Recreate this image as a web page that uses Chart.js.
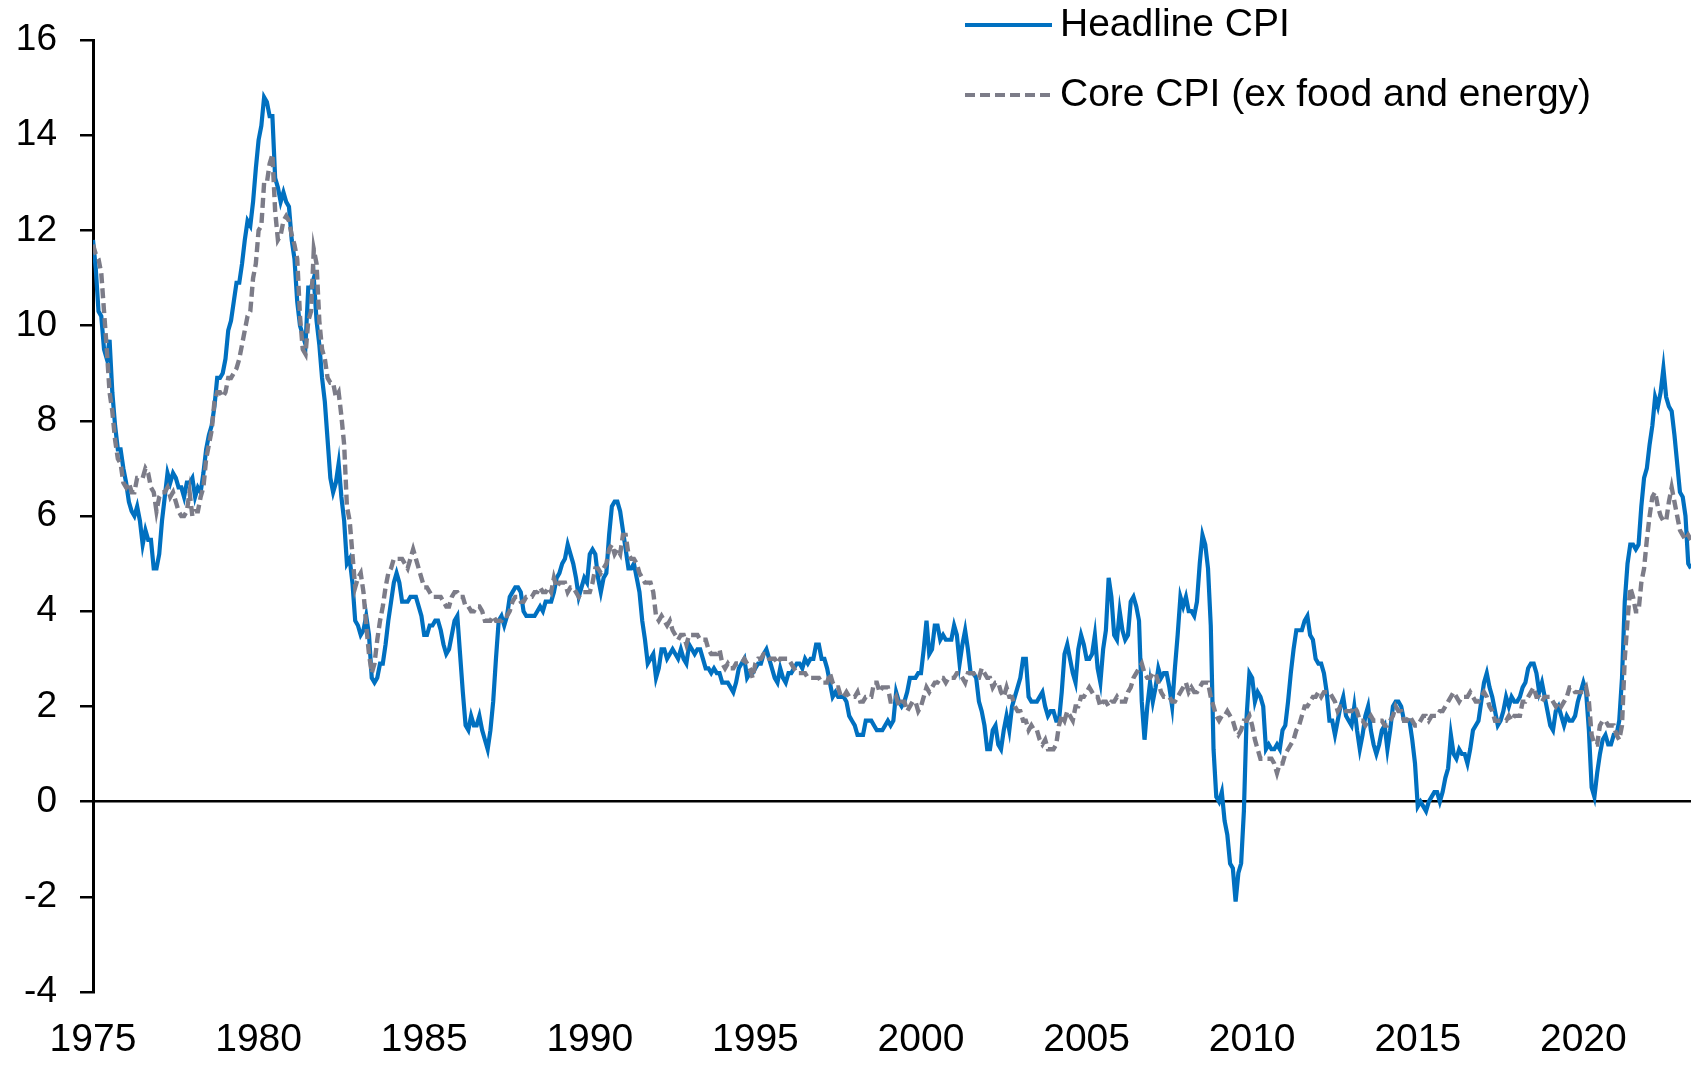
<!DOCTYPE html>
<html>
<head>
<meta charset="utf-8">
<title>US CPI inflation</title>
<script src="https://cdn.jsdelivr.net/npm/chart.js@4.4.1/dist/chart.umd.min.js"></script>
<style>
  html, body { margin: 0; padding: 0; background: #fff; }
  #contenedor { width: 1691px; height: 1066px; }
</style>
</head>
<body>
<div id="contenedor"><canvas id="grafico-cpi"></canvas></div>
<script>
// monthly y/y % change, first value = Jan 1975
const startYear = 1975;
const yearTicks = [1975, 1980, 1985, 1990, 1995, 2000, 2005, 2010, 2015, 2020];
const seriesNames = ["Headline CPI", "Core CPI (ex food and energy)"];

const headlineCPI = [
  11.8, 11.2, 10.3, 10.2, 9.5, 9.3, 9.7, 8.6, 7.9, 7.4, 7.4, 7.0,   // 1975
  6.7, 6.3, 6.1, 6.0, 6.2, 5.9, 5.4, 5.7, 5.5, 5.5, 4.9, 4.9,
  5.2, 5.9, 6.4, 6.9, 6.7, 6.9, 6.8, 6.6, 6.6, 6.4, 6.7, 6.7,
  6.8, 6.4, 6.6, 6.5, 6.9, 7.4, 7.7, 7.9, 8.3, 8.9, 8.9, 9.0,
  9.3, 9.9, 10.1, 10.5, 10.9, 10.9, 11.3, 11.8, 12.2, 12.1, 12.6, 13.3,
  13.9, 14.2, 14.8, 14.7, 14.4, 14.4, 13.1, 12.9, 12.6, 12.8, 12.6, 12.5,   // 1980
  11.8, 11.4, 10.5, 10.0, 9.8, 9.6, 10.8, 10.8, 11.0, 10.1, 9.6, 8.9,
  8.4, 7.6, 6.8, 6.5, 6.7, 7.1, 6.4, 5.9, 5.0, 5.1, 4.6, 3.8,
  3.7, 3.5, 3.6, 3.9, 3.5, 2.6, 2.5, 2.6, 2.9, 2.9, 3.3, 3.8,
  4.2, 4.6, 4.8, 4.6, 4.2, 4.2, 4.2, 4.3, 4.3, 4.3, 4.1, 3.9,
  3.5, 3.5, 3.7, 3.7, 3.8, 3.8, 3.6, 3.3, 3.1, 3.2, 3.5, 3.8,   // 1985
  3.9, 3.1, 2.3, 1.6, 1.5, 1.8, 1.6, 1.6, 1.8, 1.5, 1.3, 1.1,
  1.5, 2.1, 3.0, 3.8, 3.9, 3.7, 3.9, 4.3, 4.4, 4.5, 4.5, 4.4,
  4.0, 3.9, 3.9, 3.9, 3.9, 4.0, 4.1, 4.0, 4.2, 4.2, 4.2, 4.4,
  4.7, 4.8, 5.0, 5.1, 5.4, 5.2, 5.0, 4.7, 4.3, 4.5, 4.7, 4.6,
  5.2, 5.3, 5.2, 4.7, 4.4, 4.7, 4.8, 5.6, 6.2, 6.3, 6.3, 6.1,   // 1990
  5.7, 5.3, 4.9, 4.9, 5.0, 4.7, 4.4, 3.8, 3.4, 2.9, 3.0, 3.1,
  2.6, 2.8, 3.2, 3.2, 3.0, 3.1, 3.2, 3.1, 3.0, 3.2, 3.0, 2.9,
  3.3, 3.2, 3.1, 3.2, 3.2, 3.0, 2.8, 2.8, 2.7, 2.8, 2.7, 2.7,
  2.5, 2.5, 2.5, 2.4, 2.3, 2.5, 2.8, 2.9, 3.0, 2.6, 2.7, 2.7,
  2.8, 2.9, 2.9, 3.1, 3.2, 3.0, 2.8, 2.6, 2.5, 2.8, 2.6, 2.5,   // 1995
  2.7, 2.7, 2.8, 2.9, 2.9, 2.8, 3.0, 2.9, 3.0, 3.0, 3.3, 3.3,
  3.0, 3.0, 2.8, 2.5, 2.2, 2.3, 2.2, 2.2, 2.2, 2.1, 1.8, 1.7,
  1.6, 1.4, 1.4, 1.4, 1.7, 1.7, 1.7, 1.6, 1.5, 1.5, 1.5, 1.6,
  1.7, 1.6, 1.7, 2.3, 2.1, 2.0, 2.1, 2.3, 2.6, 2.6, 2.6, 2.7,
  2.7, 3.2, 3.8, 3.1, 3.2, 3.7, 3.7, 3.4, 3.5, 3.4, 3.4, 3.4,   // 2000
  3.7, 3.5, 2.9, 3.3, 3.6, 3.2, 2.7, 2.7, 2.6, 2.1, 1.9, 1.6,
  1.1, 1.1, 1.5, 1.6, 1.2, 1.1, 1.5, 1.8, 1.5, 2.0, 2.2, 2.4,
  2.6, 3.0, 3.0, 2.2, 2.1, 2.1, 2.1, 2.2, 2.3, 2.0, 1.8, 1.9,
  1.9, 1.7, 1.7, 2.3, 3.1, 3.3, 3.0, 2.7, 2.5, 3.2, 3.5, 3.3,
  3.0, 3.0, 3.1, 3.5, 2.8, 2.5, 3.2, 3.6, 4.7, 4.3, 3.5, 3.4,   // 2005
  4.0, 3.6, 3.4, 3.5, 4.2, 4.3, 4.1, 3.8, 2.1, 1.3, 2.0, 2.5,
  2.1, 2.4, 2.8, 2.6, 2.7, 2.7, 2.4, 2.0, 2.8, 3.5, 4.3, 4.1,
  4.3, 4.0, 4.0, 3.9, 4.2, 5.0, 5.6, 5.4, 4.9, 3.7, 1.1, 0.1,
  0.0, 0.2, -0.4, -0.7, -1.3, -1.4, -2.1, -1.5, -1.3, -0.2, 1.8, 2.7,
  2.6, 2.1, 2.3, 2.2, 2.0, 1.1, 1.2, 1.1, 1.1, 1.2, 1.1, 1.5,   // 2010
  1.6, 2.1, 2.7, 3.2, 3.6, 3.6, 3.6, 3.8, 3.9, 3.5, 3.4, 3.0,
  2.9, 2.9, 2.7, 2.3, 1.7, 1.7, 1.4, 1.7, 2.0, 2.2, 1.8, 1.7,
  1.6, 2.0, 1.5, 1.1, 1.4, 1.8, 2.0, 1.5, 1.2, 1.0, 1.2, 1.5,
  1.6, 1.1, 1.5, 2.0, 2.1, 2.1, 2.0, 1.7, 1.7, 1.7, 1.3, 0.8,
  -0.1, 0.0, -0.1, -0.2, 0.0, 0.1, 0.2, 0.2, 0.0, 0.2, 0.5, 0.7,   // 2015
  1.4, 1.0, 0.9, 1.1, 1.0, 1.0, 0.8, 1.1, 1.5, 1.6, 1.7, 2.1,
  2.5, 2.7, 2.4, 2.2, 1.9, 1.6, 1.7, 1.9, 2.2, 2.0, 2.2, 2.1,
  2.1, 2.2, 2.4, 2.5, 2.8, 2.9, 2.9, 2.7, 2.3, 2.5, 2.2, 1.9,
  1.6, 1.5, 1.9, 2.0, 1.8, 1.6, 1.8, 1.7, 1.7, 1.8, 2.1, 2.3,
  2.5, 2.3, 1.5, 0.3, 0.1, 0.6, 1.0, 1.3, 1.4, 1.2, 1.2, 1.4,   // 2020
  1.4, 1.7, 2.6, 4.2, 5.0, 5.4, 5.4, 5.3, 5.4, 6.2, 6.8, 7.0,
  7.5, 7.9, 8.5, 8.3, 8.6, 9.1, 8.5, 8.3, 8.2, 7.7, 7.1, 6.5,
  6.4, 6.0, 5.0, 4.9
];

const coreCPI = [
  11.7, 11.5, 11.4, 11.1, 10.3, 9.5, 8.6, 8.2, 7.6, 7.2, 7.1, 6.7,   // 1975
  6.6, 6.7, 6.5, 6.5, 6.8, 6.8, 6.8, 7.0, 6.9, 6.6, 6.5, 6.1,
  6.4, 6.5, 6.5, 6.6, 6.4, 6.5, 6.3, 6.1, 6.0, 6.0, 6.1, 6.5,
  6.0, 6.1, 6.1, 6.4, 6.6, 7.2, 7.5, 7.8, 8.4, 8.6, 8.6, 8.5,
  8.6, 8.9, 8.9, 9.0, 9.1, 9.3, 9.6, 9.9, 10.2, 10.3, 11.0, 11.3,
  12.0, 12.1, 13.0, 13.0, 13.4, 13.6, 12.4, 11.8, 11.9, 12.2, 12.3, 12.2,   // 1980
  11.9, 11.7, 11.4, 10.2, 9.5, 9.4, 10.1, 10.3, 11.6, 11.3, 10.1, 9.5,
  9.3, 8.9, 8.8, 8.8, 8.5, 8.6, 8.1, 7.5, 6.2, 5.9, 5.2, 4.5,
  4.7, 4.8, 4.4, 3.7, 3.1, 2.7, 2.9, 3.4, 3.8, 4.1, 4.5, 4.8,
  4.9, 5.1, 5.1, 5.1, 5.1, 5.0, 4.9, 5.1, 5.3, 5.1, 4.9, 4.7,
  4.5, 4.5, 4.4, 4.3, 4.3, 4.3, 4.3, 4.2, 4.1, 4.1, 4.3, 4.4,   // 1985
  4.4, 4.3, 4.3, 4.1, 4.1, 4.0, 4.0, 4.1, 4.1, 4.0, 3.8, 3.8,
  3.8, 3.9, 3.8, 3.8, 3.8, 3.9, 3.9, 4.0, 4.2, 4.3, 4.3, 4.2,
  4.2, 4.3, 4.3, 4.3, 4.4, 4.4, 4.5, 4.4, 4.4, 4.5, 4.4, 4.7,
  4.5, 4.6, 4.6, 4.6, 4.4, 4.5, 4.5, 4.4, 4.3, 4.4, 4.4, 4.4,
  4.4, 4.6, 4.9, 4.9, 4.8, 4.9, 5.0, 5.3, 5.4, 5.2, 5.3, 5.2,   // 1990
  5.6, 5.6, 5.2, 5.1, 5.1, 5.0, 4.8, 4.7, 4.6, 4.6, 4.6, 4.4,
  3.9, 3.8, 3.9, 3.8, 3.7, 3.8, 3.6, 3.5, 3.4, 3.5, 3.5, 3.3,
  3.5, 3.5, 3.5, 3.5, 3.4, 3.4, 3.4, 3.2, 3.1, 3.1, 3.1, 3.2,
  2.9, 2.8, 2.9, 2.8, 2.8, 2.9, 2.9, 2.9, 3.0, 2.9, 2.8, 2.6,
  2.9, 3.0, 3.0, 3.1, 3.1, 3.0, 3.0, 3.0, 2.9, 3.0, 3.0, 3.0,   // 1995
  3.0, 2.9, 2.8, 2.7, 2.7, 2.7, 2.7, 2.6, 2.6, 2.6, 2.6, 2.6,
  2.5, 2.5, 2.5, 2.7, 2.5, 2.4, 2.4, 2.2, 2.2, 2.3, 2.2, 2.2,
  2.2, 2.3, 2.1, 2.1, 2.2, 2.2, 2.2, 2.5, 2.5, 2.3, 2.4, 2.4,
  2.4, 2.1, 2.1, 2.2, 2.0, 2.1, 2.1, 1.9, 2.0, 2.1, 2.1, 1.9,
  2.0, 2.2, 2.4, 2.3, 2.4, 2.5, 2.5, 2.6, 2.6, 2.5, 2.6, 2.6,   // 2000
  2.6, 2.7, 2.7, 2.6, 2.5, 2.7, 2.7, 2.7, 2.6, 2.6, 2.8, 2.7,
  2.6, 2.6, 2.4, 2.5, 2.5, 2.3, 2.2, 2.4, 2.2, 2.2, 2.0, 1.9,
  1.9, 1.7, 1.7, 1.5, 1.6, 1.5, 1.5, 1.3, 1.2, 1.3, 1.1, 1.1,
  1.1, 1.2, 1.6, 1.8, 1.7, 1.9, 1.8, 1.7, 2.0, 2.0, 2.2, 2.2,
  2.3, 2.4, 2.3, 2.2, 2.2, 2.0, 2.1, 2.1, 2.0, 2.1, 2.1, 2.2,   // 2005
  2.1, 2.1, 2.1, 2.3, 2.4, 2.6, 2.7, 2.8, 2.9, 2.7, 2.6, 2.6,
  2.7, 2.7, 2.5, 2.3, 2.2, 2.2, 2.2, 2.1, 2.1, 2.2, 2.3, 2.4,
  2.5, 2.3, 2.4, 2.3, 2.3, 2.4, 2.5, 2.5, 2.5, 2.2, 2.0, 1.8,
  1.7, 1.8, 1.8, 1.9, 1.8, 1.7, 1.5, 1.4, 1.5, 1.7, 1.7, 1.8,
  1.6, 1.3, 1.1, 0.9, 0.9, 0.9, 0.9, 0.9, 0.8, 0.6, 0.8, 0.8,   // 2010
  1.0, 1.1, 1.2, 1.3, 1.5, 1.6, 1.8, 2.0, 2.0, 2.1, 2.2, 2.2,
  2.3, 2.2, 2.3, 2.3, 2.3, 2.2, 2.1, 1.9, 2.0, 2.0, 1.9, 1.9,
  1.9, 2.0, 1.9, 1.7, 1.7, 1.6, 1.7, 1.8, 1.7, 1.7, 1.7, 1.7,
  1.6, 1.6, 1.7, 1.8, 2.0, 1.9, 1.9, 1.7, 1.7, 1.8, 1.7, 1.6,
  1.6, 1.7, 1.8, 1.8, 1.7, 1.8, 1.8, 1.8, 1.9, 1.9, 2.0, 2.1,   // 2015
  2.2, 2.3, 2.2, 2.1, 2.2, 2.2, 2.2, 2.3, 2.2, 2.1, 2.1, 2.2,
  2.3, 2.2, 2.0, 1.9, 1.7, 1.7, 1.7, 1.7, 1.7, 1.8, 1.7, 1.8,
  1.8, 1.8, 2.1, 2.1, 2.2, 2.3, 2.4, 2.2, 2.2, 2.1, 2.2, 2.2,
  2.2, 2.1, 2.0, 2.1, 2.0, 2.1, 2.2, 2.4, 2.4, 2.3, 2.3, 2.3,
  2.3, 2.4, 2.1, 1.4, 1.2, 1.2, 1.6, 1.7, 1.7, 1.6, 1.6, 1.6,   // 2020
  1.4, 1.3, 1.6, 3.0, 3.8, 4.5, 4.3, 4.0, 4.0, 4.6, 4.9, 5.5,
  6.0, 6.4, 6.5, 6.2, 6.0, 5.9, 5.9, 6.3, 6.6, 6.3, 6.0, 5.7,
  5.6, 5.5, 5.6, 5.5
];

const fuente = '"Liberation Sans", Arial, sans-serif';
const aPuntos = arr => arr.map((v, i) => ({ x: startYear + i / 12, y: v }));

// legend drawn by hand in the upper right corner
const leyendaCPI = {
  id: 'leyendaCPI',
  afterDraw(chart) {
    const ctx = chart.ctx;
    chart.data.datasets.forEach((ds, i) => {
      const y = 25 + i * 70;
      ctx.save();
      ctx.strokeStyle = ds.borderColor;
      ctx.lineWidth = 4;
      ctx.lineCap = 'butt';
      ctx.setLineDash(ds.borderDash || []);
      ctx.beginPath();
      ctx.moveTo(965, y);
      ctx.lineTo(1052, y);
      ctx.stroke();
      ctx.setLineDash([]);
      ctx.fillStyle = '#000';
      ctx.font = `39px ${fuente}`;
      ctx.textBaseline = 'middle';
      ctx.fillText(ds.label, 1060, y);
      ctx.restore();
    });
  }
};

new Chart(document.getElementById('grafico-cpi'), {
  type: 'line',
  data: {
    datasets: [{
      label: seriesNames[0],
      data: aPuntos(headlineCPI),
      borderColor: '#0070c0',
      borderWidth: 4.2,
      pointRadius: 0,
      tension: 0,
      order: 1
    }, {
      label: seriesNames[1],
      data: aPuntos(coreCPI),
      borderColor: '#7c7c88',
      borderWidth: 4.4,
      borderDash: [10, 5],
      pointRadius: 0,
      tension: 0,
      order: 0
    }]
  },
  options: {
    responsive: true,
    maintainAspectRatio: false,
    animation: false,
    devicePixelRatio: 1,
    layout: { padding: { top: 40, right: 0, left: 0, bottom: 0 } },
    plugins: { legend: { display: false }, tooltip: { enabled: false } },
    scales: {
      x: {
        type: 'linear',
        min: startYear,
        max: startYear + (headlineCPI.length - 1) / 12,
        afterBuildTicks: axis => { axis.ticks = yearTicks.map(v => ({ value: v })); },
        afterFit: axis => { axis.height = 74; },
        ticks: {
          autoSkip: false,
          maxRotation: 0,
          includeBounds: false,
          padding: 25,
          color: '#000',
          font: { family: fuente, size: 39 },
          callback: v => String(v)
        },
        grid: { display: false, drawTicks: false },
        border: { display: false }
      },
      y: {
        min: -4,
        max: 16,
        afterFit: axis => {
          axis.width = 93;
          // keep the plot top fixed by the layout padding only
          axis.paddingTop = 0;
          axis.paddingBottom = 0;
        },
        ticks: {
          stepSize: 2,
          padding: 23,
          color: '#000',
          font: { family: fuente, size: 37 }
        },
        grid: {
          color: c => (c.tick && c.tick.value === 0 ? '#000' : 'rgba(0,0,0,0)'),
          lineWidth: 2.5,
          tickColor: '#000',
          tickWidth: 2.5,
          tickLength: 13
        },
        border: { color: '#000', width: 3 }
      }
    }
  },
  plugins: [leyendaCPI]
});
</script>
</body>
</html>
